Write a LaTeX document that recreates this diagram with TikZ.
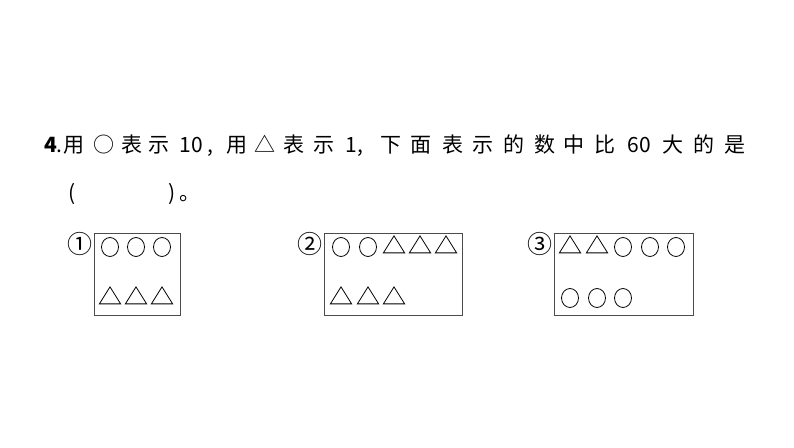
\documentclass[tikz,border=0pt]{standalone}
\usepackage{fontspec}
\usetikzlibrary{shapes.geometric}
\newfontfamily\cjk{Noto Sans CJK SC}
\begin{document}
\begin{tikzpicture}[x=1pt,y=-1pt,
  t/.style={font=\cjk\fontsize{21}{21}\selectfont,inner sep=0pt,anchor=base},
  box/.style={draw=black!70,line width=0.8pt},
  circ/.style={draw,line width=0.8pt,ellipse,minimum width=17pt,minimum height=19pt,inner sep=0pt},
  tri/.style={draw,line width=0.8pt,isosceles triangle,isosceles triangle apex angle=64,shape border rotate=90,minimum height=17pt,inner sep=0pt},
  num/.style={font=\cjk\fontsize{25}{25}\selectfont,inner sep=0pt}]
\useasboundingbox (0,0) rectangle (794,447);
\fill[white] (0,0) rectangle (794,447);
% title
\foreach \x/\s [count=\i] in {73/用,103/○,130/表,157/示,188/10,207/{,},233/用,260/△,289/表,318/示,345/1,353/{,},383/下,413/面,444/表,473/示,504/的,534/数,563/中,593/比,627/60,660/大,690/的,721/是}
  \node[t] (w\i) at (\x+\i*0.6,152) {\s};
\node[t,anchor=base west] (q) at (44,152) {\textbf{4}.};
\node[t] (lp) at (72,200) {(};
\node[t] (rp) at (172,200) {)};
\node[t] (dot) at (190,200) {。};
% boxes
\draw[box] (94,233) rectangle (180,315);
\draw[box] (324,233) rectangle (462,315);
\draw[box] (554,233) rectangle (693,315);
\node[num] (n1) at (80,244) {①};
\node[num] (n2) at (310,244) {②};
\node[num] (n3) at (540,244) {③};
% box1
\foreach \x in {110,136,162} \node[circ] at (\x,247) {};
\foreach \x in {110,136,162} \node[tri] at (\x,298) {};
% box2
\foreach \x in {341,368} \node[circ] at (\x,247) {};
\foreach \x in {394,420,446} \node[tri] at (\x,247) {};
\foreach \x in {341,368,394} \node[tri] at (\x,298) {};
% box3
\foreach \x in {570,597} \node[tri] at (\x,247) {};
\foreach \x in {623,650,676} \node[circ] at (\x,247) {};
\foreach \x in {570,597,623} \node[circ] at (\x,298) {};
\end{tikzpicture}
\end{document}
